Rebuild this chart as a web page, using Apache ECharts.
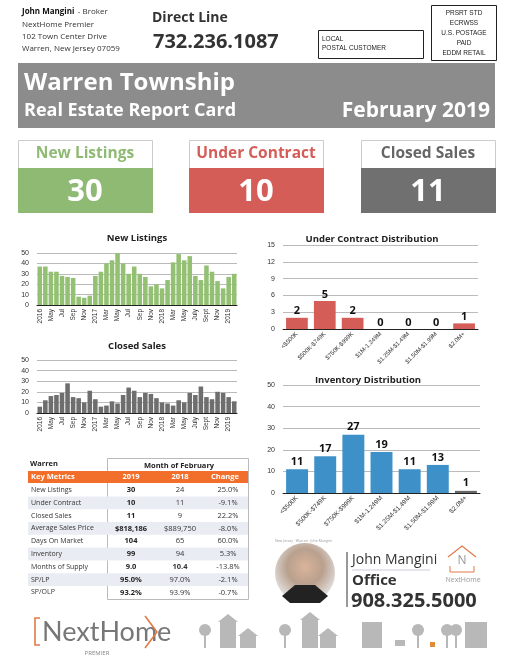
<!DOCTYPE html><html><head><meta charset="utf-8"><script src="https://cdn.jsdelivr.net/npm/echarts@6/dist/echarts.min.js"></script>
<style>html,body{margin:0;padding:0;background:#fff}#c{width:510px;height:660px}</style></head><body><div id="c"></div><script>
var months=[];(function(){var n=['Jan','Feb','Mar','Apr','May','Jun','Jul','Aug','Sep','Oct','Nov','Dec'];for(var y=2016;y<=2019;y++)for(var m=0;m<12;m++){if(y==2016&&m<2)continue;if(y==2019&&m>1)continue;months.push(n[m]+' '+y);}})();
var monthLabels=['2016','','May','','Jul','','Sep','','Nov','','2017','','Mar','','May','','Jul','','Sep','','Nov','','2018','','Mar','','May','','July','','Sept','','Nov','','2019',''];
var newListings=[37,37,32,32,28,27,26,8,7,9,28,32,40,43,50,40,30,37,30,27,18,20,16,24,41,49,43,47,28,24,38,32,23,16,27,30];
var closedSales=[6,12,16,17,19,28,15,14,10,21,13,6,7,11,9,17,24,21,15,19,18,14,10,9,7,12,10,19,17,25,15,13,20,19,15,11];
var priceBands=['<$500K','$500K-$749K','$750K-$999K','$1M-1.249M','$1.25M-$1.49M','$1.50M-$1.99M','$2.0M+'];
var underContract=[2,5,2,0,0,0,1];
var inventory=[11,17,27,19,11,13,1];
var tableRows=['New Listings','Under Contract','Closed Sales','Average Sales Price','Days On Market','Inventory','Months of Supply','SP/LP','SP/OLP'];
var col2019=['30','10','11','$818,186','104','99','9.0','95.0%','93.2%'];
var col2018=['24','11','9','$889,750','65','94','10.4','97.0%','93.9%'];
var colChange=['25.0%','-9.1%','22.2%','-8.0%','60.0%','5.3%','-13.8%','-2.1%','-0.7%'];

var F='"Open Sans",sans-serif';
var ch=echarts.init(document.getElementById('c'));
var g=[];
function T(x,y,t,s,o){o=o||{};g.push({type:'text',x:x,y:y,style:{text:t,fontSize:s,fontFamily:o.ff||F,fontWeight:o.w||'normal',fill:o.c||'#222',align:o.a||'left',verticalAlign:o.v||'middle'}});}
function R(x,y,w,h,f,st){g.push({type:'rect',shape:{x:x,y:y,width:w,height:h},style:{fill:f||'none',stroke:st||null,lineWidth:1}});}
g.push({type:'text',x:22,y:12,style:{rich:{b:{fontWeight:'bold',fontSize:8,fontFamily:F,fill:'#111'},n:{fontSize:8,fontFamily:F,fill:'#333'}},text:'{b|John Mangini} {n|- Broker}',verticalAlign:'middle'}});
T(22,25,'NextHome Premier',8,{c:'#333'});T(22,37,'102 Town Center Drive',8,{c:'#333'});T(22,49,'Warren, New Jersey 07059',8,{c:'#333'});
T(152,18,'Direct Line',14,{w:'bold',c:'#333'});T(153,42,'732.236.1087',20,{w:'bold',c:'#333'});
R(318.5,30.5,105,28,'#fff','#222');T(322,39,'LOCAL',6.5,{ff:'Liberation Sans'});T(322,48,'POSTAL CUSTOMER',6.5,{ff:'Liberation Sans'});
R(431.5,5.5,65,55,'#fff','#222');['PRSRT STD','ECRWSS','U.S. POSTAGE','PAID','EDDM RETAIL'].forEach(function(s,i){T(464,13+i*10,s,6.5,{a:'center',ff:'Liberation Sans'});});
R(18,63,477,65,'#8c8c8c');T(24,83,'Warren Township',24,{w:'bold',c:'#fff'});T(24,111,'Real Estate Report Card',18,{w:'bold',c:'#fff'});T(490,111,'February 2019',21,{w:'bold',c:'#fff',a:'right'});
[[18,'New Listings','30','#8fba74','#8fba74'],[189,'Under Contract','10','#d45d58','#d45d58'],[361,'Closed Sales','11','#707070','#666']].forEach(function(b){R(b[0]+0.5,140.5,134,72,'#fff','#ccc');R(b[0],168,135,45,b[3]);T(b[0]+67,154,b[1],15.5,{w:'bold',c:b[4],a:'center'});T(b[0]+67,192,b[2],31,{w:'bold',c:'#fff',a:'center'});});
T(137,238,'New Listings',9.5,{w:'bold',a:'center'});T(137,346,'Closed Sales',9.5,{w:'bold',a:'center'});
T(372,239,'Under Contract Distribution',9.5,{w:'bold',a:'center'});T(368,380,'Inventory Distribution',9.5,{w:'bold',a:'center'});
R(107.5,458.5,141,141,'#fff','#bbb');
T(30,464,'Warren',7.5,{w:'bold'});T(179,466,'Month of February',7.5,{w:'bold',a:'center'});
R(28,471,220,12,'#f26f2b');T(31,477,'Key Metrics',7.5,{w:'bold',c:'#fff'});T(131,477,'2019',7.5,{w:'bold',c:'#fff',a:'center'});T(180,477,'2018',7.5,{w:'bold',c:'#fff',a:'center'});T(225,477,'Change',7.5,{w:'bold',c:'#fff',a:'center'});
tableRows.forEach(function(r,i){var y=490+i*12.8;if(i%2==1)R(28,y-6.4,220,12.8,'#e9edf3');T(31,y,r,7,{c:'#333'});T(131,y,col2019[i],7.5,{w:'bold',a:'center'});T(180,y,col2018[i],7.5,{a:'center',w:i==6?'bold':'normal',c:'#333'});T(228,y,colChange[i],7.5,{a:'center',c:'#333'});});
T(275,541,'New Jersey · Warren · John Mangini',3.5,{c:'#999'});
g.push({type:'circle',shape:{cx:305,cy:573,r:30},style:{fill:new echarts.graphic.RadialGradient(0.5,0.4,0.6,[{offset:0,color:'#d9b49a'},{offset:0.5,color:'#b9a08e'},{offset:1,color:'#e5e5e5'}])}});
g.push({type:'polygon',shape:{points:[[282,596],[295,585],[315,585],[328,596],[320,603],[290,603]]},style:{fill:'#222'}});
g.push({type:'rect',shape:{x:346,y:552,width:2,height:55},style:{fill:'#999'}});
T(352,560,'John Mangini',14,{c:'#333'});g.push({type:'line',shape:{x1:352,y1:570,x2:430,y2:570},style:{stroke:'#aac',lineWidth:0.6}});
T(352,581,'Office',15,{w:'bold',c:'#333'});T(351,601,'908.325.5000',20,{w:'bold',c:'#333'});
g.push({type:'polyline',shape:{points:[[448,557],[462,546],[476,557]]},style:{stroke:'#e07a45',lineWidth:1.2,fill:'none'}});
g.push({type:'polyline',shape:{points:[[450,566],[450,572],[474,572],[474,566]]},style:{stroke:'#e07a45',lineWidth:1,fill:'none'}});
T(462,561,'N',12,{c:'#999',a:'center'});T(463,580,'NextHome',7,{c:'#999',a:'center'});
var sc='#b8b8b8';
function tree(x){g.push({type:'circle',shape:{cx:x,cy:630,r:6},style:{fill:sc}});R(x-1,634,2,14,sc);}
function house(x,w,h){R(x,648-h,w,h,sc);g.push({type:'polygon',shape:{points:[[x-2,648-h],[x+w/2,640-h],[x+w+2,648-h]]},style:{fill:sc}});}
tree(205);house(220,16,26);house(240,16,12);tree(285);house(302,16,28);house(320,16,12);R(362,622,20,26,sc);R(395,640,10,6,sc);tree(418);R(430,642,5,5,'#e08a3a');tree(447);tree(456);R(465,622,22,26,sc);
g.push({type:'polyline',shape:{points:[[40,618],[35,618],[35,645],[40,645]]},style:{stroke:'#e07a45',lineWidth:1.6,fill:'none'}});
T(42,632,'NextHome',27,{c:'#777',ff:'"Lato",sans-serif'});
g.push({type:'polyline',shape:{points:[[145,616],[157,632],[145,648]]},style:{stroke:'#e07a45',lineWidth:1.6,fill:'none'}});
T(97,653,'PREMIER',6,{c:'#888',a:'center'});

var axL={fontSize:7,color:'#333',fontFamily:'Liberation Sans'};
var grids=[{left:37,right:273,top:253,height:52},{left:37,right:273,top:360,height:53},{left:283,right:32,top:245,height:84},{left:283,right:30,top:385,height:108}];
function catX(i,data,rot,fmt,fs){return {type:'category',gridIndex:i,data:data,axisTick:{show:false},axisLine:{lineStyle:{color:'#222'}},axisLabel:{interval:0,rotate:rot,fontSize:fs,color:'#333',fontFamily:'Liberation Sans',formatter:fmt,margin:4}};}
function valY(i,max,iv){return {type:'value',gridIndex:i,min:0,max:max,interval:iv,axisLabel:axL,splitLine:{lineStyle:{color:'#bbb'}},axisLine:{show:false}};}
var ml=function(v,i){return monthLabels[i];};
ch.setOption({animation:false,grid:grids,
xAxis:[catX(0,months,90,ml,6.5),catX(1,months,90,ml,6.5),catX(2,priceBands,45,null,6),catX(3,priceBands,45,null,6.5)],
yAxis:[valY(0,50,10),valY(1,50,10),valY(2,15,3),valY(3,50,10)],
series:[{type:'bar',xAxisIndex:0,yAxisIndex:0,data:newListings,barCategoryGap:'18%',itemStyle:{color:'#93c073'}},
{type:'bar',xAxisIndex:1,yAxisIndex:1,data:closedSales,barCategoryGap:'18%',itemStyle:{color:'#6e6e6e'}},
{type:'bar',xAxisIndex:2,yAxisIndex:2,data:underContract,barCategoryGap:'22%',itemStyle:{color:'#d45d58'},label:{show:true,position:'top',fontSize:11,fontWeight:'bold',color:'#111',fontFamily:F,distance:1}},
{type:'bar',xAxisIndex:3,yAxisIndex:3,data:inventory.map(function(v,i){return i==6?{value:v,itemStyle:{color:'#666'}}:v;}),barCategoryGap:'22%',itemStyle:{color:'#3d91c8'},label:{show:true,position:'top',fontSize:11,fontWeight:'bold',color:'#111',fontFamily:F,distance:2}}],
graphic:g});
</script></body></html>
